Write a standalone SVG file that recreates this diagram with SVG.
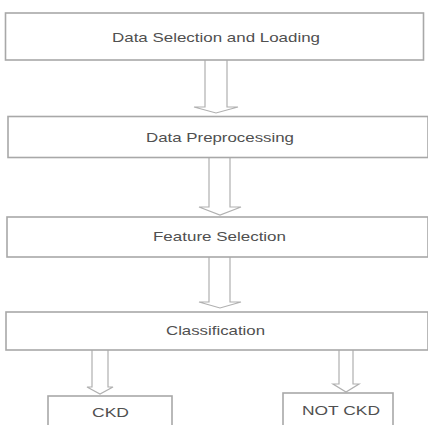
<svg xmlns="http://www.w3.org/2000/svg" width="428" height="425" viewBox="0 0 428 425">
<style>
.box{fill:#fff;stroke:#a8a8a8;stroke-width:1.6}
.lbl{font-family:"Liberation Sans",Arial,sans-serif;font-size:13px;fill:#505050;text-anchor:start}
.arr{fill:#fff;stroke:#b0b0b0;stroke-width:1.2;stroke-linejoin:miter}
</style>
<rect width="428" height="425" fill="#fff"/>
<g id="connectors">
<polyline class="arr" points="205,60 205,107 194,107 216,113 238,107 227,107 227,60"/>
<polyline class="arr" points="209,157 209,207 199,207 220,215 241,207 230,207 230,157"/>
<polyline class="arr" points="209,257 209,302 199,302 220,308 241,302 230,302 230,257"/>
<polyline class="arr" points="92,350 92,387 87,387 100,394 113,387 108,387 108,350"/>
<polyline class="arr" points="339,350 339,384 333,384 346,392 359,384 353,384 353,350"/>
</g>
<g id="node-data-selection">
<rect class="box" x="5.5" y="13" width="418" height="47"/>
<text class="lbl" x="112" y="42" textLength="208" lengthAdjust="spacingAndGlyphs">Data Selection and Loading</text>
</g>
<g id="node-data-preprocessing">
<rect class="box" x="8" y="116.5" width="420" height="41"/>
<text class="lbl" x="146" y="142" textLength="148" lengthAdjust="spacingAndGlyphs">Data Preprocessing</text>
</g>
<g id="node-feature-selection">
<rect class="box" x="7" y="217" width="421" height="40"/>
<text class="lbl" x="153" y="241" textLength="133" lengthAdjust="spacingAndGlyphs">Feature Selection</text>
</g>
<g id="node-classification">
<rect class="box" x="6" y="312" width="422" height="38"/>
<text class="lbl" x="166" y="335" textLength="99" lengthAdjust="spacingAndGlyphs">Classification</text>
</g>
<g id="node-ckd">
<rect class="box" x="48" y="396" width="124" height="40"/>
<text class="lbl" x="92" y="417" textLength="37" lengthAdjust="spacingAndGlyphs">CKD</text>
</g>
<g id="node-not-ckd">
<rect class="box" x="283" y="393" width="110" height="40"/>
<text class="lbl" x="302" y="415" textLength="78" lengthAdjust="spacingAndGlyphs">NOT CKD</text>
</g>
</svg>
